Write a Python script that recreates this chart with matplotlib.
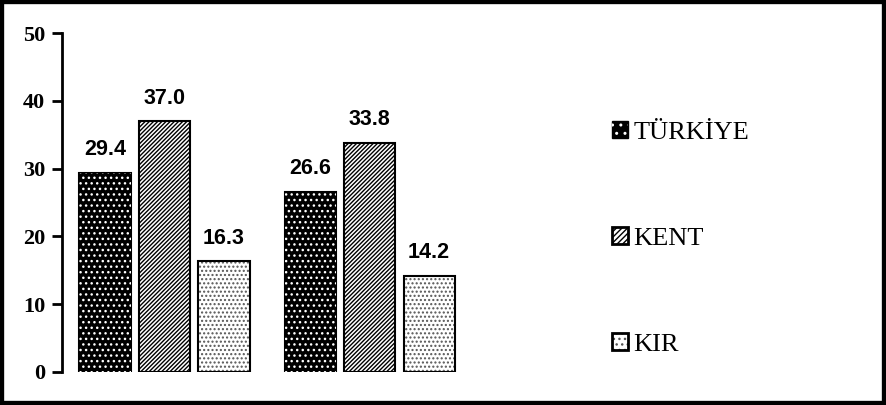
import numpy as np
import matplotlib
matplotlib.use("Agg")
import matplotlib.pyplot as plt
from matplotlib.patches import Rectangle

groups = ["1", "2"]
turkiye = [29.4, 26.6]
kent = [37.0, 33.8]
kir = [16.3, 14.2]
series_names = ["TÜRKİYE", "KENT", "KIR"]
yticks = [0, 10, 20, 30, 40, 50]

fig = plt.figure(figsize=(8.86, 4.05), dpi=100)
ax = fig.add_axes([0.070, 0.0815, 0.463, 0.837])

x = np.arange(len(groups))
w = 0.25
off = 0.29

# TÜRKİYE: black bar with white dot pattern on top
ax.bar(x - off, turkiye, w, color="black", edgecolor="black", linewidth=1.5)
ax.bar(x - off, turkiye, w, facecolor="none", edgecolor="white", hatch="...", linewidth=0)
# KENT: dense diagonal lines
ax.bar(x, kent, w, color="white", edgecolor="black", hatch="////////", linewidth=1.5)
# KIR: sparse grey dots
ax.bar(x + off, kir, w, color="white", edgecolor="#555555", hatch="....", linewidth=0)
ax.bar(x + off, kir, w, facecolor="none", edgecolor="black", linewidth=1.5)

for xs, vals in [(x - off, turkiye), (x, kent), (x + off, kir)]:
    for xi, v in zip(xs, vals):
        ax.annotate(f"{v:.1f}", (xi, v), xytext=(0, 9), textcoords="offset points",
                    ha="center", va="bottom", fontsize=15.5, fontweight="bold",
                    family="Liberation Sans")

ax.set_xlim(-0.5, 1.5)
ax.set_ylim(0, 50)
ax.set_yticks(yticks)
ax.set_yticklabels([str(t) for t in yticks], family="Liberation Serif",
                   fontweight="bold", fontsize=16)
ax.tick_params(axis="y", direction="out", length=7, width=2, pad=5)
ax.set_xticks([])
for s in ["top", "right", "bottom"]:
    ax.spines[s].set_visible(False)
ax.spines["left"].set_linewidth(2)

# legend swatches built from overlaid patches
h1 = (Rectangle((0, 0), 1, 1, facecolor="black", edgecolor="black"),
      Rectangle((0, 0), 1, 1, facecolor="none", edgecolor="white", hatch="..", linewidth=0))
h2 = Rectangle((0, 0), 1, 1, facecolor="white", edgecolor="black", hatch="//////", linewidth=2)
h3 = (Rectangle((0, 0), 1, 1, facecolor="white", edgecolor="#555555", hatch="...", linewidth=0),
      Rectangle((0, 0), 1, 1, facecolor="none", edgecolor="black", linewidth=2))

fig.legend([h1, h2, h3], series_names, loc="center left",
           bbox_to_anchor=(0.664, 0.411), frameon=False,
           prop={"family": "Liberation Serif", "size": 19},
           handlelength=0.6, handleheight=0.6, handletextpad=0.2,
           labelspacing=3.15)

fig.patches.append(Rectangle((0, 0), 1, 1, transform=fig.transFigure,
                             fill=False, edgecolor="black", linewidth=6))

fig.savefig("out.png", dpi=100)
